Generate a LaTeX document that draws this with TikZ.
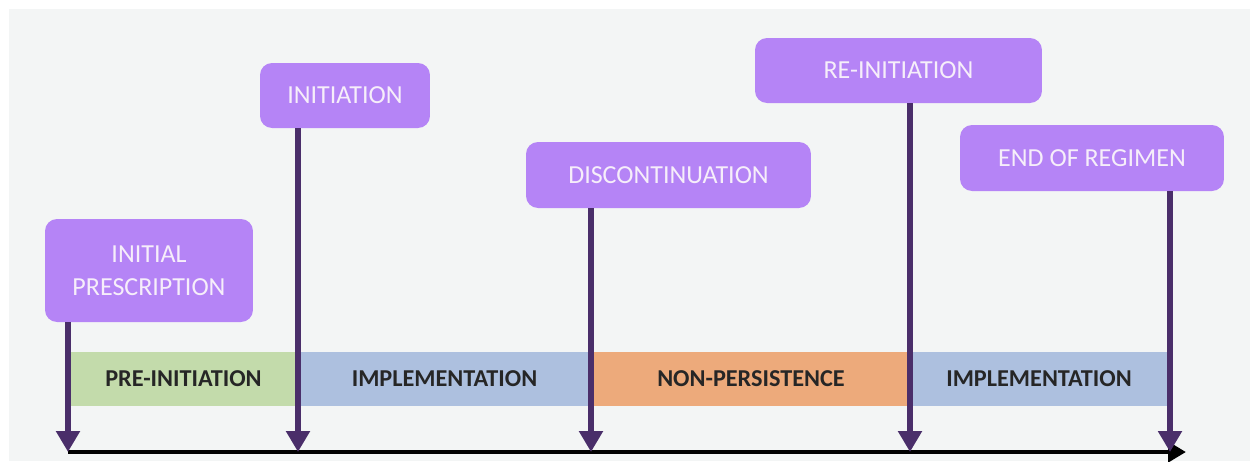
\documentclass[tikz,border=0pt]{standalone}
\usepackage{fontspec}
\setmainfont{Carlito}
\usetikzlibrary{arrows.meta}
\definecolor{bg}{HTML}{F3F5F5}
\definecolor{boxc}{HTML}{B584F6}
\definecolor{arr}{HTML}{4A2E6A}
\definecolor{green1}{HTML}{C3DBAB}
\definecolor{blue1}{HTML}{ADC0DF}
\definecolor{orange1}{HTML}{EDAA7B}
\definecolor{boxtext}{HTML}{F6EEFA}
\begin{document}
\begin{tikzpicture}[x=0.02cm,y=-0.02cm,
  evbox/.style={fill=boxc, rounded corners=0.24cm, text=boxtext, font=\fontsize{14.8pt}{18pt}\selectfont, align=center, inner sep=0pt},
  band/.style={inner sep=0pt, text=black!85, font=\fontsize{13.8pt}{16pt}\selectfont\bfseries, minimum height=1.08cm},
  varrow/.style={draw=arr, line width=3.2pt, -{Triangle[width=0.46cm,length=0.42cm]}},
  axis/.style={draw=black, line width=2.8pt, -{Triangle[width=0.4cm,length=0.36cm]}}]
\useasboundingbox (0,0) rectangle (1250,461);
\fill[bg] (9,9) rectangle (1250,461);
% bands
\node[band, fill=green1, minimum width=4.54cm] (b1) at (183.5,379) {PRE-INITIATION};
\node[band, fill=blue1, minimum width=5.9cm] (b2) at (444.5,379) {IMPLEMENTATION};
\node[band, fill=orange1, minimum width=6.36cm] (b3) at (751,379) {NON-PERSISTENCE};
\node[band, fill=blue1, minimum width=5.16cm] (b4) at (1039,379) {IMPLEMENTATION};
% event boxes
\node[evbox, minimum width=4.16cm, minimum height=2.06cm] (ip) at (149,270.5) {INITIAL\\[1pt]PRESCRIPTION};
\node[evbox, minimum width=3.4cm, minimum height=1.3cm] (in) at (345,95.5) {INITIATION};
\node[evbox, minimum width=5.7cm, minimum height=1.32cm] (dc) at (668.5,175) {DISCONTINUATION};
\node[evbox, minimum width=5.74cm, minimum height=1.3cm] (ri) at (898.5,70.5) {RE-INITIATION};
\node[evbox, minimum width=5.28cm, minimum height=1.32cm] (er) at (1092,158) {END OF REGIMEN};
% axis points
\coordinate (t1) at (68,452);
\coordinate (t2) at (298,452);
\coordinate (t3) at (591,452);
\coordinate (t4) at (910,452);
\coordinate (t5) at (1170,452);
\coordinate (tend) at (1186,452);
\draw[axis] (t1) -- (tend);
\draw[varrow] (ip.south -| t1) -- (t1);
\draw[varrow] (in.south -| t2) -- (t2);
\draw[varrow] (dc.south -| t3) -- (t3);
\draw[varrow] (ri.south -| t4) -- (t4);
\draw[varrow] (er.south -| t5) -- (t5);
\end{tikzpicture}
\end{document}
